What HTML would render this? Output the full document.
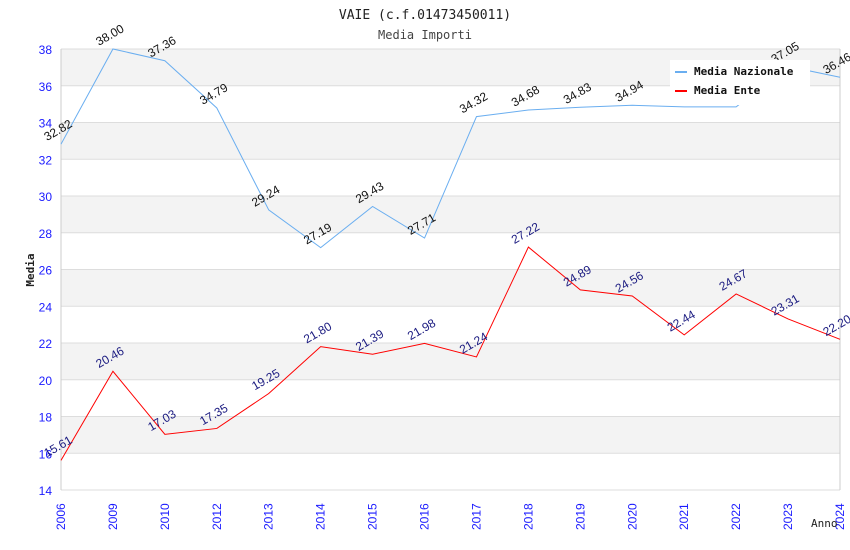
<!DOCTYPE html>
<html><head><meta charset="utf-8"><style>
body{margin:0;background:#fff}
svg{display:block}
</style></head><body>
<svg id="c" width="850" height="550" xmlns="http://www.w3.org/2000/svg">
<text x="425" y="19" text-anchor="middle" font-family="DejaVu Sans Mono, monospace" font-size="13" fill="#222">VAIE (c.f.01473450011)</text>
<text x="425" y="39" text-anchor="middle" font-family="DejaVu Sans Mono, monospace" font-size="12" fill="#444">Media Importi</text>
<g id="grid"></g>
<g id="axes"></g>
<g id="series"></g>
<text x="0" y="0" transform="translate(34,270) rotate(-90)" text-anchor="middle" font-family="DejaVu Sans Mono, monospace" font-size="11" font-weight="bold" fill="#222">Media</text>
<text x="811" y="527" font-family="DejaVu Sans Mono, monospace" font-size="11" fill="#222">Anno</text>
<g>
<rect x="670" y="60" width="140" height="45" fill="#fff"/>
<line x1="675" y1="72" x2="687" y2="72" stroke="#6aaef0" stroke-width="2"/>
<text x="694" y="75" font-family="DejaVu Sans Mono, monospace" font-size="11" font-weight="bold" fill="#111">Media Nazionale</text>
<line x1="675" y1="91" x2="687" y2="91" stroke="#f00" stroke-width="2"/>
<text x="694" y="94" font-family="DejaVu Sans Mono, monospace" font-size="11" font-weight="bold" fill="#111">Media Ente</text>
</g>
</svg>
<script>
const categories=["2006","2009","2010","2012","2013","2014","2015","2016","2017","2018","2019","2020","2021","2022","2023","2024"];
const nazionale=[32.82,38.00,37.36,34.79,29.24,27.19,29.43,27.71,34.32,34.68,34.83,34.94,34.85,34.85,37.05,36.46];
const ente=[15.61,20.46,17.03,17.35,19.25,21.80,21.39,21.98,21.24,27.22,24.89,24.56,22.44,24.67,23.31,22.20];
const yTicks=[14,16,18,20,22,24,26,28,30,32,34,36,38];
const hideNazLabels=["2021","2022"];
const NS="http://www.w3.org/2000/svg";
const L=61,R=840,T=49,B=490,yMin=14,yMax=38;
const x=i=>L+i*(R-L)/(categories.length-1);
const y=v=>B-(v-yMin)*(B-T)/(yMax-yMin);
function mk(tag,attrs,parent){const e=document.createElementNS(NS,tag);for(const k in attrs)e.setAttribute(k,attrs[k]);parent.appendChild(e);return e;}
const grid=document.getElementById('grid'),axes=document.getElementById('axes'),ser=document.getElementById('series');
for(let i=0;i<yTicks.length-1;i++){
 const a=yTicks[i],b=yTicks[i+1];
 const r=mk('rect',{x:L,y:y(b),width:R-L,height:y(a)-y(b),fill:i%2===1?'#f3f3f3':'#fff'},grid);
 
 
}
yTicks.forEach(t=>{
 const l=mk('line',{x1:L,x2:R,y1:y(t),y2:y(t),stroke:'#ddd','stroke-width':1},grid);
 
 
 const tx=mk('text',{x:L-9,y:y(t)+5,'text-anchor':'end','font-family':'Liberation Sans, sans-serif','font-size':12,fill:'#1a1aff'},axes);
 tx.textContent=t;
 
 
});
mk('line',{x1:L,x2:L,y1:T,y2:B,stroke:'#ccc'},axes);
mk('line',{x1:R,x2:R,y1:T,y2:B,stroke:'#ccc'},axes);
categories.forEach((c,i)=>{
 const tx=mk('text',{x:0,y:0,transform:`translate(${x(i)+4},${B+40}) rotate(-90)`,'font-family':'Liberation Sans, sans-serif','font-size':12,fill:'#1a1aff'},axes);
 tx.textContent=c;
 
 
});
function series(vals,color,labelColor,name,hide){
 const p=mk('polyline',{points:vals.map((v,i)=>x(i)+','+y(v)).join(' '),fill:'none',stroke:color,'stroke-width':1},ser);
 
 
 vals.forEach((v,i)=>{
  if(hide.includes(categories[i]))return;
  const t=mk('text',{x:0,y:0,transform:`translate(${x(i)-14},${y(v)-3}) rotate(-30)`,'font-family':'Liberation Sans, sans-serif','font-size':12,fill:labelColor},ser);
  t.textContent=v.toFixed(2);
  
  
 });
}
series(nazionale,'#6aaef0','#111','nazionale',hideNazLabels);
series(ente,'#f00','#1a1a80','ente',[]);
</script>
</body></html>
